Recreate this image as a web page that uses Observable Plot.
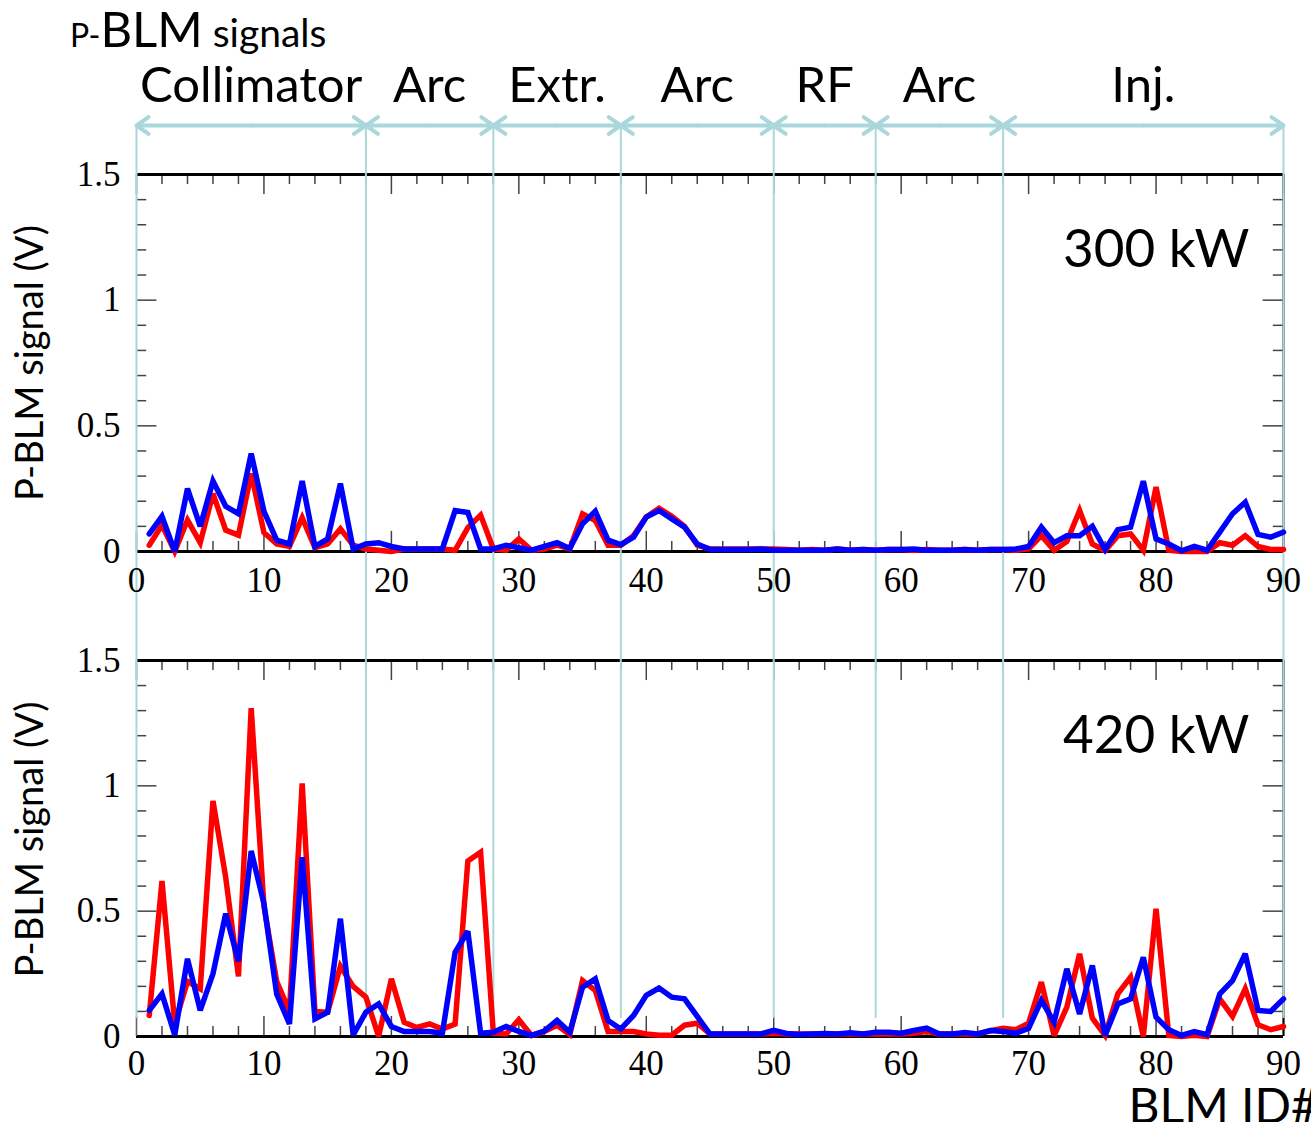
<!DOCTYPE html>
<html><head><meta charset="utf-8">
<script src="https://cdn.jsdelivr.net/npm/d3@7"></script>
<script src="https://cdn.jsdelivr.net/npm/@observablehq/plot@0.6"></script>
<style>
body{margin:0;background:#fff;}
#wrap{position:relative;width:1311px;height:1122px;overflow:hidden;background:#fff;}
#title{position:absolute;left:70px;top:3px;font-family:Lato,sans-serif;line-height:50px;white-space:nowrap;color:#000;}
#top{position:absolute;left:0;top:0;}
#bot{position:absolute;left:0;top:610px;}
</style></head><body>
<div id="wrap">
<div id="top"></div>
<div id="bot"></div>
<div id="title"><span style="font-size:32px">P-</span><span style="font-size:49px">BLM</span><span style="font-size:39px"> signals</span></div>
</div>
<script>
const blmId = d3.range(1, 91);
const red300 = [0.025,0.105,0.0,0.125,0.035,0.23,0.085,0.065,0.31,0.075,
  0.03,0.02,0.135,0.015,0.03,0.09,0.025,0.01,0.005,0.0,
  0.01,0.01,0.01,0.01,0.005,0.095,0.145,0.01,0.005,0.05,
  0.005,0.01,0.025,0.01,0.15,0.123,0.025,0.025,0.063,0.137,
  0.172,0.14,0.1,0.025,0.01,0.01,0.01,0.01,0.01,0.01,
  0.008,0.005,0.008,0.005,0.01,0.005,0.008,0.005,0.008,0.008,
  0.005,0.008,0.005,0.005,0.008,0.005,0.008,0.008,0.005,0.01,
  0.063,0.005,0.04,0.163,0.03,0.003,0.063,0.07,0.005,0.256,
  0.005,0.0,0.0,0.0,0.035,0.025,0.063,0.02,0.008,0.008];
const blue300 = [0.07,0.14,0.0,0.25,0.10,0.28,0.18,0.15,0.39,0.16,
  0.045,0.03,0.28,0.02,0.05,0.27,0.01,0.03,0.035,0.02,
  0.01,0.01,0.01,0.01,0.163,0.155,0.01,0.01,0.025,0.015,
  0.005,0.02,0.035,0.012,0.11,0.16,0.045,0.027,0.057,0.137,
  0.163,0.13,0.097,0.03,0.008,0.008,0.008,0.008,0.01,0.005,
  0.005,0.005,0.005,0.005,0.01,0.005,0.008,0.005,0.008,0.008,
  0.01,0.005,0.005,0.005,0.008,0.005,0.008,0.008,0.01,0.02,
  0.097,0.035,0.063,0.063,0.1,0.008,0.087,0.097,0.28,0.05,
  0.03,0.003,0.02,0.005,0.077,0.15,0.196,0.068,0.057,0.077];
const red420 = [0.084,0.62,0.05,0.22,0.19,0.94,0.635,0.24,1.31,0.52,
  0.22,0.10,1.01,0.10,0.097,0.28,0.2,0.157,0.0,0.23,
  0.057,0.036,0.05,0.03,0.05,0.70,0.735,0.013,0.01,0.067,
  0.004,0.02,0.045,0.008,0.223,0.184,0.02,0.02,0.02,0.01,
  0.005,0.005,0.045,0.053,0.01,0.01,0.01,0.01,0.01,0.013,
  0.01,0.01,0.01,0.01,0.01,0.01,0.01,0.01,0.01,0.01,
  0.013,0.02,0.01,0.01,0.01,0.01,0.023,0.033,0.027,0.053,
  0.217,0.004,0.117,0.33,0.073,0.004,0.17,0.237,0.0,0.51,
  0.004,0.0,0.005,0.0,0.15,0.08,0.19,0.047,0.027,0.04];
const blue420 = [0.104,0.17,0.006,0.31,0.104,0.25,0.49,0.30,0.74,0.53,
  0.17,0.05,0.715,0.07,0.097,0.47,0.006,0.097,0.13,0.04,
  0.02,0.02,0.02,0.013,0.336,0.42,0.013,0.017,0.04,0.02,
  0.005,0.022,0.064,0.017,0.197,0.23,0.064,0.03,0.084,0.164,
  0.193,0.157,0.15,0.08,0.01,0.01,0.01,0.01,0.01,0.025,
  0.012,0.008,0.01,0.012,0.01,0.015,0.01,0.017,0.017,0.013,
  0.024,0.033,0.01,0.01,0.016,0.01,0.024,0.02,0.013,0.033,
  0.144,0.057,0.27,0.09,0.283,0.004,0.13,0.15,0.316,0.077,
  0.027,0.004,0.02,0.007,0.17,0.223,0.33,0.104,0.1,0.15];
const sectionNames = ["Collimator","Arc","Extr.","Arc","RF","Arc","Inj."];
const sectionEdges = [0,18,28,38,50,58,68,90];
const xTickLabels = [0,10,20,30,40,50,60,70,80,90];
const xMinorTicks = d3.range(0, 91, 2);
const yTickLabels = [0,0.5,1,1.5];
const yMinorTicks = d3.range(0, 15).map(d => d / 10);
const powerLabels = ["300 kW","420 kW"];
const yAxisLabel = "P-BLM signal (V)";
const xAxisLabel = "BLM ID#";

const LB = "#aad7db";
const TICK = "#444";
const SERIF = "Liberation Serif, Times New Roman, serif";
const SANS = "Lato, sans-serif";

const sections = sectionNames.map((name, i) => ({name, x0: sectionEdges[i], x1: sectionEdges[i+1], mid: (sectionEdges[i] + sectionEdges[i+1]) / 2}));
const arrowRows = sections.flatMap(s => [{from: s.mid, to: s.x0}, {from: s.mid, to: s.x1}]);

function panel(red, blue, power, cfg) {
  const rows = blmId.map((id, i) => ({id, red: red[i], blue: blue[i]}));
  const marks = [
    // inner ticks
    Plot.ruleX(xMinorTicks.filter(d => d % 10 !== 0), {y1: 0, y2: 0.04, stroke: TICK, strokeWidth: 1.5}),
    Plot.ruleX(xTickLabels, {y1: 0, y2: 0.08, stroke: TICK, strokeWidth: 1.5}),
    Plot.ruleX(xMinorTicks.filter(d => d % 10 !== 0), {y1: 1.5, y2: 1.46, stroke: TICK, strokeWidth: 1.5}),
    Plot.ruleX(xTickLabels, {y1: 1.5, y2: 1.42, stroke: TICK, strokeWidth: 1.5}),
    Plot.ruleY(yMinorTicks.filter(d => Math.round(d * 10) % 5 !== 0), {x1: 0, x2: 0.8, stroke: TICK, strokeWidth: 1.5}),
    Plot.ruleY(yTickLabels, {x1: 0, x2: 1.6, stroke: TICK, strokeWidth: 1.5}),
    Plot.ruleY(yMinorTicks.filter(d => Math.round(d * 10) % 5 !== 0), {x1: 90, x2: 89.2, stroke: TICK, strokeWidth: 1.5}),
    Plot.ruleY(yTickLabels, {x1: 90, x2: 88.4, stroke: TICK, strokeWidth: 1.5}),
    // frame
    Plot.ruleY([0, 1.5], {stroke: "#000", strokeWidth: 3}),
    Plot.ruleX([90], {stroke: "#000", strokeWidth: 2}),
    Plot.ruleX([0], {stroke: "#666", strokeWidth: 1}),
    // section boundaries
    Plot.ruleX(sectionEdges, {stroke: LB, strokeWidth: 2, insetTop: cfg.ruleTop, insetBottom: cfg.ruleBottom}),
    // data
    Plot.line(rows, {x: "id", y: "red", stroke: "#ff0000", strokeWidth: 5.5, strokeLinejoin: "miter", strokeMiterlimit: 3}),
    Plot.line(rows, {x: "id", y: "blue", stroke: "#0000ff", strokeWidth: 5.5, strokeLinejoin: "miter", strokeMiterlimit: 3}),
    // tick labels
    Plot.text(xTickLabels, {x: d => d, y: 0, dy: cfg.xLabelDy, text: d => String(d), fontSize: 35, fontFamily: SERIF, fill: "#000"}),
    Plot.text(yTickLabels, {x: 0, y: d => d, dx: -16, text: d => String(d), textAnchor: "end", fontSize: 35, fontFamily: SERIF, fill: "#000"}),
    Plot.text([yAxisLabel], {frameAnchor: "left", textAnchor: "middle", dx: -106, dy: cfg.yLabelDy, text: d => d, rotate: -90, fontSize: 38, fontFamily: SANS, fill: "#000"}),
    Plot.text([power], {x: 90, y: 1.2, dx: -34, text: d => d, textAnchor: "end", fontSize: 53, fontFamily: SANS, fill: "#000"})
  ];
  if (cfg.header) {
    marks.push(
      Plot.arrow(arrowRows, {x1: "from", x2: "to", y1: 1.5, y2: 1.5, dy: -49, stroke: LB, strokeWidth: 4, headLength: 5.5, headAngle: 70}),
      Plot.text(sections, {x: "mid", y: 1.5, dy: -88, text: "name", fontSize: 49, fontFamily: SANS, fill: "#000"})
    );
  }
  if (cfg.footer) {
    marks.push(Plot.text([xAxisLabel], {x: 90, y: 0, dx: -155, dy: 71, text: d => d, textAnchor: "start", fontSize: 48, fontFamily: SANS, fill: "#000"}));
  }
  return Plot.plot({
    width: 1311,
    height: cfg.height,
    marginLeft: 136,
    marginRight: 28,
    marginTop: cfg.marginTop,
    marginBottom: cfg.marginBottom,
    style: {background: "transparent", overflow: "visible"},
    x: {domain: [0, 90], axis: null},
    y: {domain: [0, 1.5], axis: null},
    marks
  });
}

document.getElementById("top").appendChild(panel(red300, blue300, powerLabels[0], {
  height: 610, marginTop: 174, marginBottom: 59, ruleTop: -49, ruleBottom: -59, xLabelDy: 29, yLabelDy: 0, header: true, footer: false
}));
document.getElementById("bot").appendChild(panel(red420, blue420, powerLabels[1], {
  height: 512, marginTop: 50, marginBottom: 86, ruleTop: -50, ruleBottom: 18, xLabelDy: 27, yLabelDy: -9, header: false, footer: true
}));
</script>
</body></html>
